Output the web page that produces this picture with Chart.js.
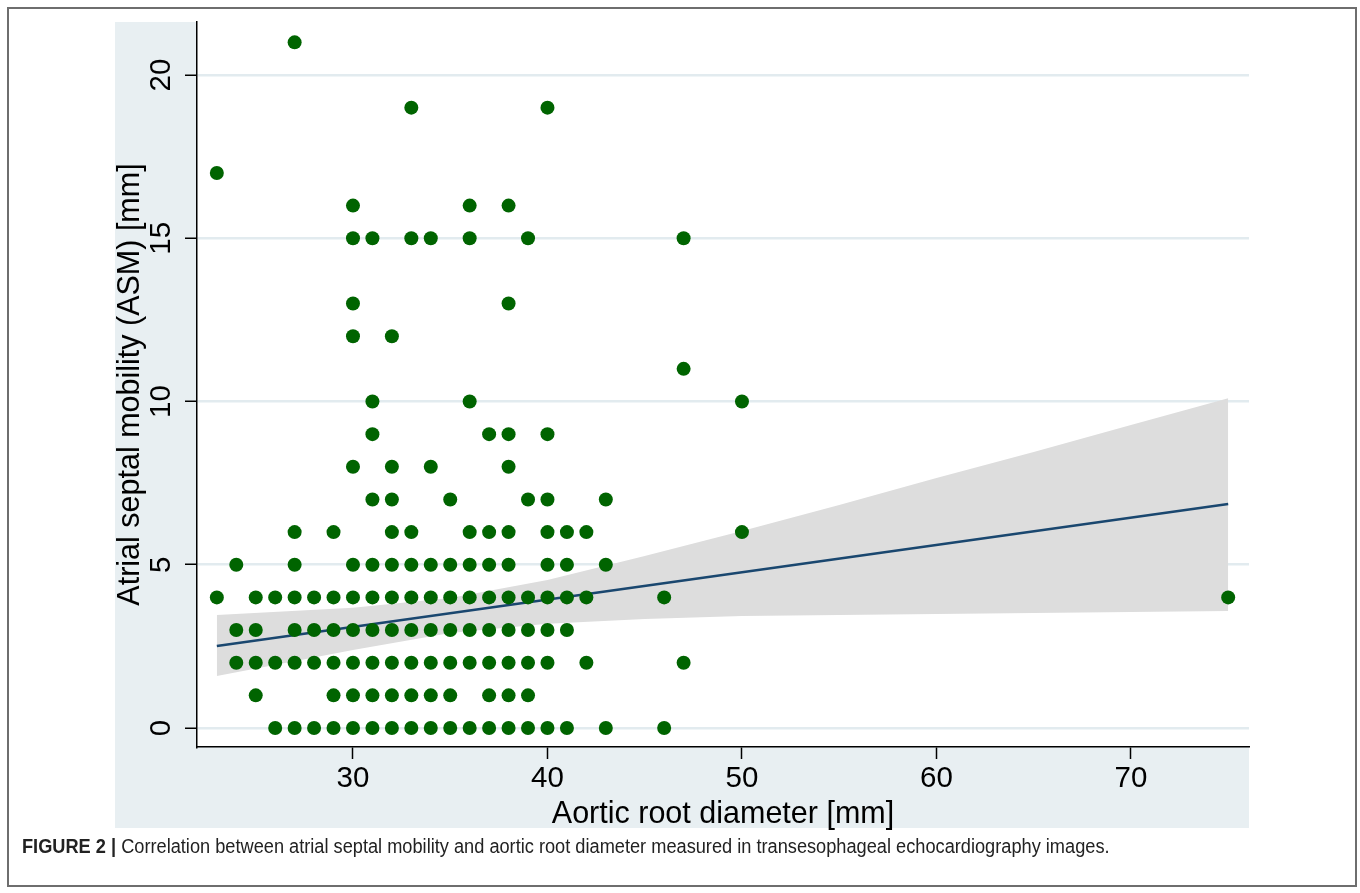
<!DOCTYPE html>
<html lang="en">
<head>
  <meta charset="UTF-8" />
  <title>Figure 2 - ASM vs aortic root diameter</title>
  <style>
    html, body { margin: 0; padding: 0; background: #fff; }
    #wrap { position: relative; width: 1360px; height: 893px; overflow: hidden; }
    #frame {
      position: absolute; left: 7px; top: 7px; width: 1350px; height: 880px;
      border: 2px solid #6e6e6e; box-sizing: border-box;
    }
    #chart { position: absolute; left: 0; top: 0; }
    #caption {
      position: absolute; left: 22px; top: 835px; white-space: nowrap;
      font-family: "Liberation Sans", Arial, sans-serif;
      font-size: 20px; color: #222;
      transform: scaleX(0.91); transform-origin: 0 0;
    }
    #caption b { font-weight: bold; }
  </style>
</head>
<body>
  <div id="wrap">
    <div id="frame"></div>
    <canvas id="chart" width="1360" height="893"></canvas>
    <div id="caption"><b>FIGURE 2 |</b> Correlation between atrial septal mobility and aortic root diameter measured in transesophageal echocardiography images.</div>
  </div>

  <script src="https://cdn.jsdelivr.net/npm/chart.js@4"></script>
  <script>
    // ASM values (y) and, for each, the aortic root diameters (x) observed at that value
    const asmLevels = [0, 1, 2, 3, 4, 5, 6, 7, 8, 9, 10, 11, 12, 13, 15, 16, 17, 19, 21];
    const aorticAtLevel = [
      [26, 27, 28, 29, 30, 31, 32, 33, 34, 35, 36, 37, 38, 39, 40, 41, 43, 46],
      [25, 29, 30, 31, 32, 33, 34, 35, 37, 38, 39],
      [24, 25, 26, 27, 28, 29, 30, 31, 32, 33, 34, 35, 36, 37, 38, 39, 40, 42, 47],
      [24, 25, 27, 28, 29, 30, 31, 32, 33, 34, 35, 36, 37, 38, 39, 40, 41],
      [23, 25, 26, 27, 28, 29, 30, 31, 32, 33, 34, 35, 36, 37, 38, 39, 40, 41, 42, 46, 75],
      [24, 27, 30, 31, 32, 33, 34, 35, 36, 37, 38, 40, 41, 43],
      [27, 29, 32, 33, 36, 37, 38, 40, 41, 42, 50],
      [31, 32, 35, 39, 40, 43],
      [30, 32, 34, 38],
      [31, 37, 38, 40],
      [31, 36, 50],
      [47],
      [30, 32],
      [30, 38],
      [30, 31, 33, 34, 36, 39, 47],
      [30, 36, 38],
      [23],
      [33, 40],
      [27]
    ];

    // linear fit and its 95% CI band
    const fitX = [23, 75];
    const fitY = [2.51, 6.86];
    const bandX = [23, 30, 35, 40, 45, 50, 55, 60, 65, 70, 75];
    const bandUpper = [3.46, 3.68, 3.98, 4.53, 5.27, 6.03, 6.83, 7.66, 8.45, 9.28, 10.1];
    const bandLower = [1.59, 2.39, 2.91, 3.19, 3.34, 3.43, 3.46, 3.49, 3.52, 3.55, 3.58];

    const xTicks = [30, 40, 50, 60, 70];
    const yTicks = [0, 5, 10, 15, 20];

    const DOT = '#006400';
    const NAVY = '#1a476f';
    const BAND = '#dddddd';
    const PANEL = '#e8eff2';
    const GRID = '#e2ebef';
    const FONT = '"Liberation Sans", Arial, sans-serif';

    const points = [];
    asmLevels.forEach((v, i) => {
      aorticAtLevel[i].forEach(x => points.push({ x: x, y: v }));
    });
    const fitLine = fitX.map((x, i) => ({ x: x, y: fitY[i] }));
    const upper = bandX.map((x, i) => ({ x: x, y: bandUpper[i] }));
    const lower = bandX.map((x, i) => ({ x: x, y: bandLower[i] }));

    // light blue panel behind the axes, white plot region
    const panelBg = {
      id: 'panelBg',
      beforeDraw(chart) {
        const { ctx, chartArea, scales } = chart;
        ctx.save();
        ctx.fillStyle = PANEL;
        ctx.fillRect(scales.y.left, chartArea.top, chartArea.right - scales.y.left, scales.x.bottom - chartArea.top);
        ctx.fillStyle = '#fff';
        ctx.fillRect(chartArea.left, chartArea.top, chartArea.right - chartArea.left, chartArea.bottom - chartArea.top);
        ctx.restore();
      }
    };

    new Chart(document.getElementById('chart').getContext('2d'), {
      type: 'scatter',
      data: {
        datasets: [
          {
            label: 'ASM', data: points, order: 0,
            backgroundColor: DOT, borderColor: DOT, borderWidth: 0,
            pointRadius: 7, pointHoverRadius: 7
          },
          {
            type: 'line', label: 'Fitted values', data: fitLine, order: 1,
            borderColor: NAVY, borderWidth: 2.5, pointRadius: 0, fill: false
          },
          {
            type: 'line', label: '95% CI', data: upper, order: 2,
            borderColor: 'rgba(0,0,0,0)', borderWidth: 0, backgroundColor: BAND,
            pointRadius: 0, fill: '+1'
          },
          {
            type: 'line', label: '95% CI lower', data: lower, order: 3,
            borderColor: 'rgba(0,0,0,0)', borderWidth: 0, pointRadius: 0, fill: false
          }
        ]
      },
      options: {
        responsive: false,
        animation: false,
        devicePixelRatio: 1,
        layout: { padding: { left: 115, top: 22, right: 111, bottom: 65 } },
        plugins: { legend: { display: false }, tooltip: { enabled: false } },
        scales: {
          x: {
            type: 'linear', min: 21.98, max: 76.07,
            afterBuildTicks: s => { s.ticks = xTicks.map(v => ({ value: v })); },
            afterFit: s => { s.height = 81; s.paddingLeft = 0; s.paddingRight = 0; },
            grid: { drawOnChartArea: false, tickLength: 12, tickColor: '#000', tickWidth: 1.5 },
            border: { color: '#000', width: 1.5 },
            ticks: { color: '#000', padding: 2, maxRotation: 0, font: { family: FONT, size: 29.5 } },
            title: {
              display: true, text: 'Aortic root diameter [mm]', color: '#000',
              padding: 0, font: { family: FONT, size: 30.5, lineHeight: 0.9 }
            }
          },
          y: {
            type: 'linear', min: -0.582, max: 21.623,
            afterBuildTicks: s => { s.ticks = yTicks.map(v => ({ value: v })); },
            afterFit: s => { s.width = 82; s.paddingTop = 0; s.paddingBottom = 0; },
            grid: { color: GRID, lineWidth: 2.5, tickLength: 12, tickColor: '#000', tickWidth: 1.5 },
            border: { color: '#000', width: 1.5 },
            ticks: {
              color: '#000', padding: 7, minRotation: 90, maxRotation: 90, crossAlign: 'center',
              font: { family: FONT, size: 29.5 }
            },
            title: {
              display: true, text: 'Atrial septal mobility (ASM) [mm]', color: '#000',
              padding: 0, font: { family: FONT, size: 30.5, lineHeight: 1.0 }
            }
          }
        }
      },
      plugins: [panelBg]
    });
  </script>
</body>
</html>
